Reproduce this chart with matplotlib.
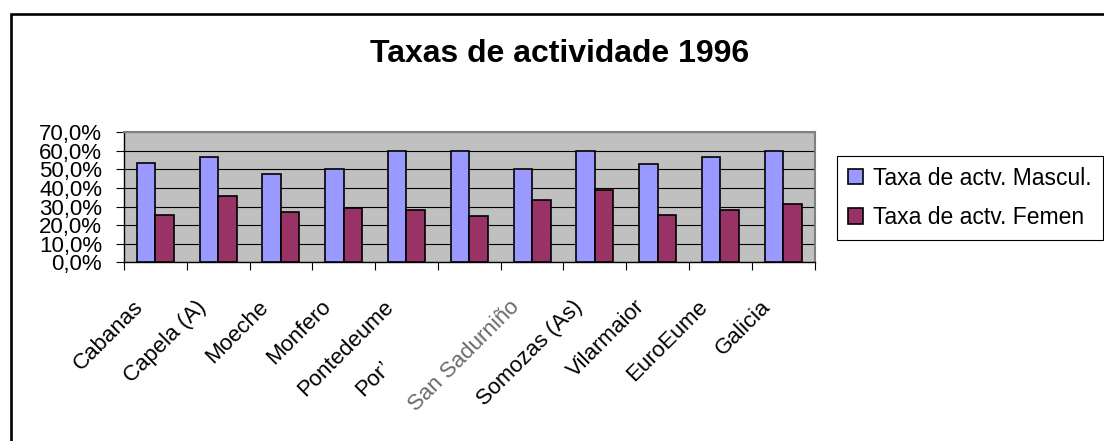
import numpy as np
import matplotlib
matplotlib.use('Agg')
import matplotlib.pyplot as plt
from matplotlib.patches import Rectangle
from matplotlib.transforms import ScaledTranslation
from matplotlib.ticker import FuncFormatter

# datos (%)
concellos = ['Cabanas', 'Capela (A)', 'Moeche', 'Monfero', 'Pontedeume', 'Por\u2019',
             'San Sadurniño', 'Somozas (As)', 'Vilarmaior', 'EuroEume', 'Galicia']
taxa_masc = [53.6, 56.9, 47.3, 50.3, 60.0, 60.0, 50.5, 60.1, 52.7, 56.9, 60.1]
taxa_fem = [25.7, 35.5, 26.9, 29.1, 28.0, 24.8, 33.4, 38.7, 25.7, 28.0, 31.2]
series = ['Taxa de actv. Mascul.', 'Taxa de actv. Femen']

plt.rcParams['font.family'] = ['Liberation Sans', 'DejaVu Sans']

W, H = 1104, 441
fig = plt.figure(figsize=(W/100, H/100), dpi=100)
ax = fig.add_axes([124/W, 1-262.3/H, (814.5-124)/W, (262.3-132.3)/H])
ax.set_facecolor('#C0C0C0')

n = len(concellos)
x = np.arange(n)
w = 0.295
b1 = ax.bar(x - w/2, taxa_masc, w, color='#9999FF', edgecolor='black', linewidth=1.2,
            label=series[0], zorder=3)
b2 = ax.bar(x + w/2, taxa_fem, w, color='#993366', edgecolor='black', linewidth=1.2,
            label=series[1], zorder=3)

ax.set_xlim(-0.5, n - 0.5)
ax.set_ylim(0, 70)
ax.set_yticks(np.arange(0, 71, 10))
ax.yaxis.set_major_formatter(FuncFormatter(lambda v, p: ('%.1f%%' % v).replace('.', ',')))
ax.grid(axis='y', color='black', linewidth=0.8, zorder=1)
ax.set_axisbelow(True)
ax.tick_params(axis='y', length=5.8, width=0.8, pad=10, labelsize=16, direction='out')

ax.set_xticks(x, concellos)
ax.set_xticks(np.arange(-0.5, n, 1), minor=True)
ax.tick_params(axis='x', which='major', length=0, pad=0, labelsize=16)
ax.tick_params(axis='x', which='minor', length=5.8, width=0.8, direction='out')

shift = {'Por\u2019': (-89, 95)}
for lbl in ax.get_xticklabels():
    dx, dy = shift.get(lbl.get_text(), (-23, 34))
    lbl.set_rotation(45)
    lbl.set_rotation_mode('anchor')
    lbl.set_ha('right')
    lbl.set_va('top')
    lbl.set_transform(lbl.get_transform() + ScaledTranslation(dx/100, -dy/100, fig.dpi_scale_trans))
    if lbl.get_text() == 'San Sadurniño':
        lbl.set_color('#6a6a6a')

for s in ['top', 'right']:
    ax.spines[s].set_color('#808080')
    ax.spines[s].set_linewidth(1.5)
for s in ['left', 'bottom']:
    ax.spines[s].set_color('black')
    ax.spines[s].set_linewidth(1.0)

fig.text(559.7/W, 1-61.7/H, 'Taxas de actividade 1996', ha='center', va='baseline',
         fontsize=23, fontweight='bold')

leg = fig.legend(handles=[b1, b2], loc='upper left', bbox_to_anchor=(836.7/W, 1-155.7/H),
                 bbox_transform=fig.transFigure, fontsize=16.5, fancybox=False,
                 edgecolor='black', framealpha=1, handlelength=0.66, handleheight=0.66,
                 handletextpad=0.44, borderpad=0.48, labelspacing=0.71, borderaxespad=0)
leg.get_frame().set_linewidth(0.8)

fig.patches.append(Rectangle((11/W, -0.1), 1.2, 1 - 14/H + 0.1, transform=fig.transFigure,
                             fill=False, linewidth=1.9, edgecolor='black'))

plt.savefig('out.png', dpi=100)
